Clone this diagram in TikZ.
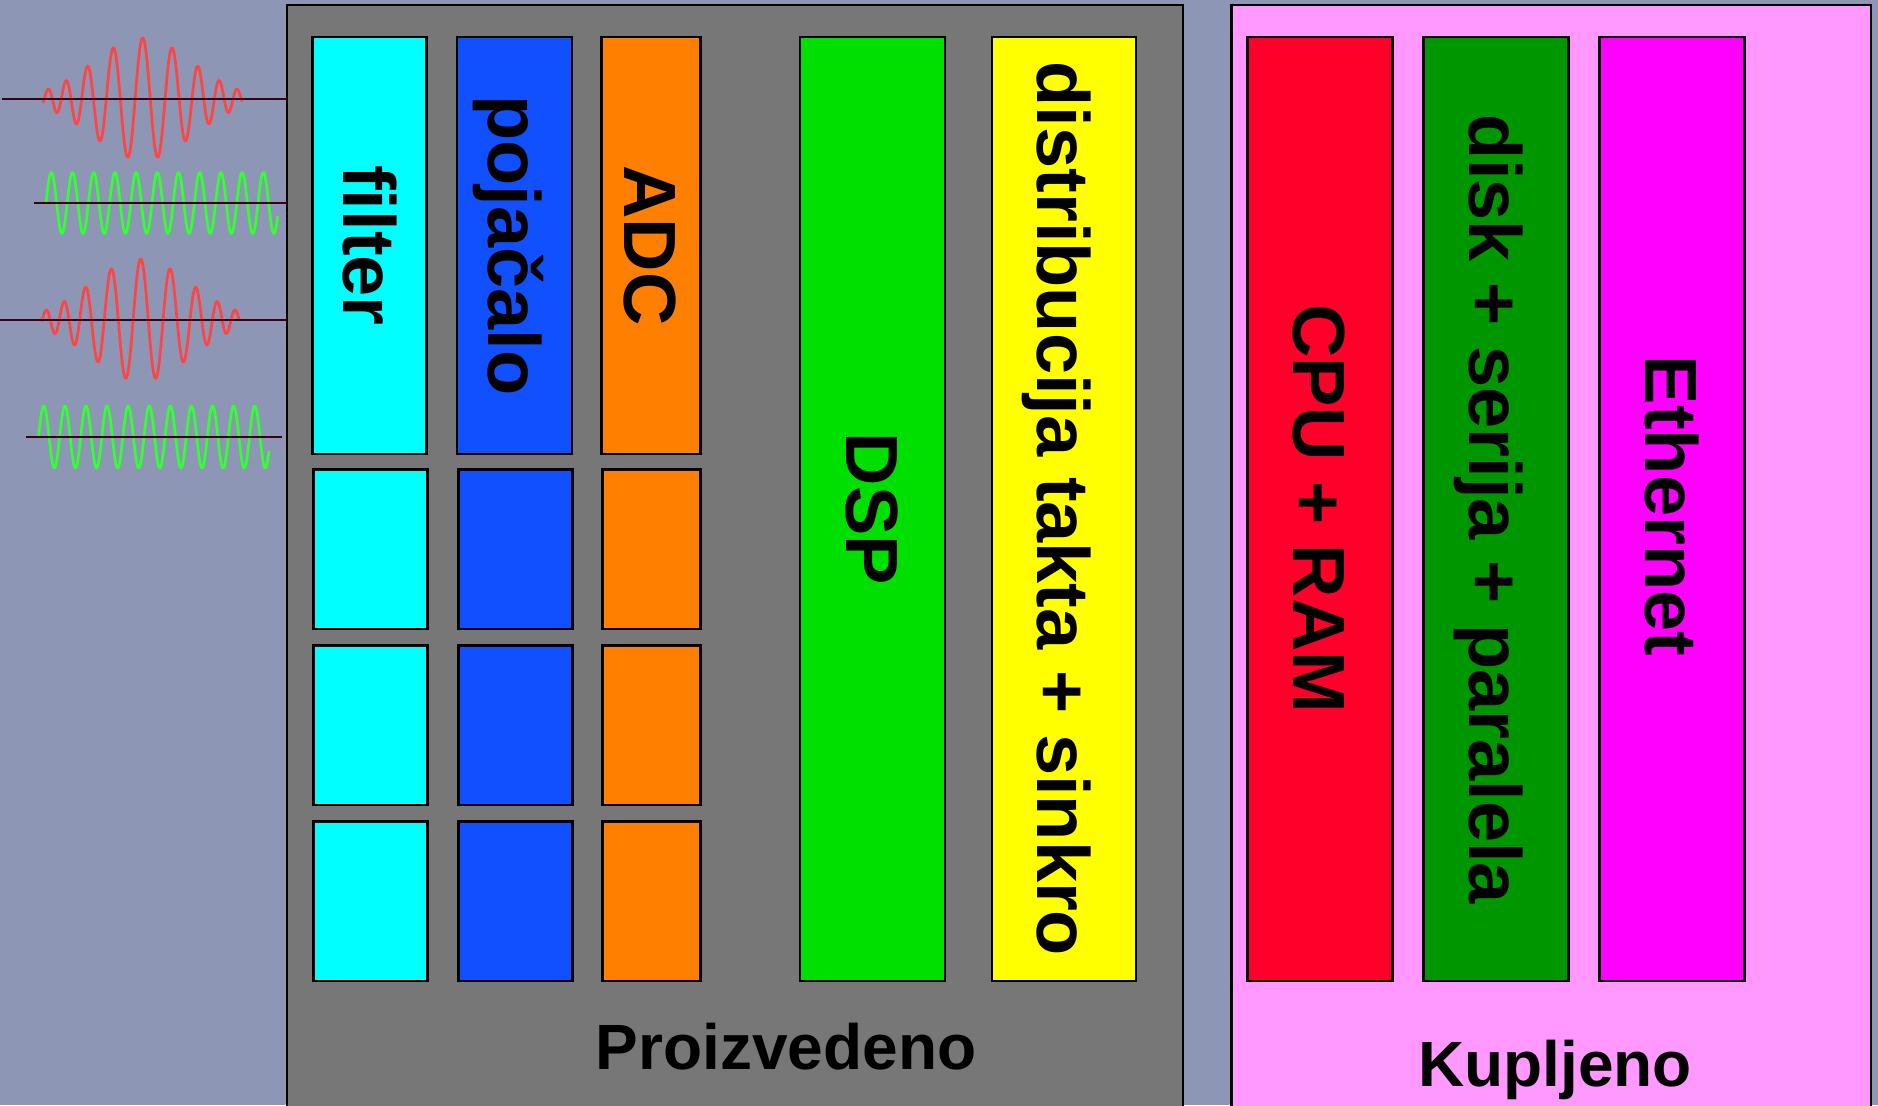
\documentclass[tikz,border=0pt]{standalone}
\usepackage{fontspec}
\setmainfont{Liberation Sans}
\definecolor{bg}{RGB}{141,150,180}
\definecolor{grayb}{RGB}{119,119,119}
\definecolor{pinkb}{RGB}{255,153,255}
\definecolor{cyanb}{RGB}{0,255,255}
\definecolor{blueb}{RGB}{16,80,255}
\definecolor{orangeb}{RGB}{255,128,0}
\definecolor{greenb}{RGB}{0,224,0}
\definecolor{yellowb}{RGB}{255,255,0}
\definecolor{redb}{RGB}{255,0,42}
\definecolor{dgreenb}{RGB}{0,150,0}
\definecolor{magb}{RGB}{255,0,255}
\definecolor{wavered}{RGB}{255,68,68}
\definecolor{wavegreen}{RGB}{51,255,51}
\definecolor{axisline}{RGB}{60,0,16}
\begin{document}
\begin{tikzpicture}[x=1pt,y=-1pt,
  declare function={redw(\v)=exp(-2.04*\v*\v)*cos(1186*\v+378*\v*\v*\v);},
  frame/.style={draw=black,line width=2.3pt},
  box/.style={draw=black,line width=2.3pt,inner sep=0pt,outer sep=0pt,anchor=north west},
  lbl/.style={rotate=-90,inner sep=0pt,text height=53pt,text depth=0pt,
    font=\fontsize{74}{80}\selectfont\bfseries},
  title/.style={anchor=base,inner sep=0pt,font=\fontsize{64}{70}\selectfont\bfseries},
  rw/.style={draw=wavered,line width=2.7pt,line join=round},
  gw/.style={draw=wavegreen,line width=2.7pt,line join=round},
  ax/.style={draw=axisline,line width=2.5pt}]
\useasboundingbox (0,0) rectangle (1878,1105);
\clip (0,0) rectangle (1878,1105);
\fill[bg] (0,0) rectangle (1878,1105);
% outer panels
\draw[frame,fill=grayb] (287,5) rectangle (1183,1120);
\draw[frame,fill=pinkb] (1231.5,5) rectangle (1871,1120);
% waveforms
\draw[rw] plot[domain=43:242,samples=400] (\x,{99-61*redw((\x-142.7)/100)});
\draw[gw] plot[domain=46:277.7,samples=400] (\x,{203-30.5*sin((\x-46)*16.981)});
\draw[rw] plot[domain=41.7:239,samples=400] (\x,{320-61*redw((\x-140.7)/100)});
\draw[gw] plot[domain=38.5:269,samples=400] (\x,{437-31*sin((\x-38.5)*17.062)});
\coordinate (l1a) at (2,99);   \coordinate (l1b) at (287,99);
\coordinate (l2a) at (34,203); \coordinate (l2b) at (287,203);
\coordinate (l3a) at (0,320);  \coordinate (l3b) at (287,320);
\coordinate (l4a) at (26,437); \coordinate (l4b) at (282,437);
\draw[ax] (l1a) -- (l1b);
\draw[ax] (l2a) -- (l2b);
\draw[ax] (l3a) -- (l3b);
\draw[ax] (l4a) -- (l4b);
% tall columns
\node[box,fill=cyanb,minimum width=114pt,minimum height=417pt] (filt) at (312.5,37) {};
\node[box,fill=blueb,minimum width=115pt,minimum height=417pt] (poj) at (457,37) {};
\node[box,fill=orangeb,minimum width=99pt,minimum height=417pt] (adc) at (601.5,37) {};
% small boxes
\foreach \r/\yy in {1/469.5,2/645.5,3/821.5}{
  \node[box,fill=cyanb,minimum width=114pt,minimum height=159.5pt] (fs\r) at (313.5,\yy) {};
  \node[box,fill=blueb,minimum width=114pt,minimum height=159.5pt] (ps\r) at (458.5,\yy) {};
  \node[box,fill=orangeb,minimum width=98pt,minimum height=159.5pt] (as\r) at (602.5,\yy) {};
}
\node[box,fill=greenb,minimum width=145pt,minimum height=944pt] (dsp) at (800,37) {};
\node[box,fill=yellowb,minimum width=144pt,minimum height=944pt] (clk) at (992,37) {};
\node[box,fill=redb,minimum width=145pt,minimum height=944pt] (cpu) at (1247.5,37) {};
\node[box,fill=dgreenb,minimum width=145pt,minimum height=944pt] (disk) at (1423.5,37) {};
\node[box,fill=magb,minimum width=145pt,minimum height=944pt] (eth) at (1599.5,37) {};
% labels
\node[lbl] (tfilt) at (filt.center) {filter};
\node[lbl] (tpoj) at (poj.center) {pojačalo};
\node[lbl] (tadc) at (adc.center) {ADC};
\node[lbl] (tdsp) at (dsp.center) {DSP};
\node[lbl] (tclk) at (clk.center) {distribucija takta + sinkro};
\node[lbl] (tcpu) at (cpu.center) {CPU + RAM};
\node[lbl] (tdisk) at (disk.center) {disk + serija + paralela};
\node[lbl] (teth) at ([yshift=3pt]eth.center) {Ethernet};
\node[title] (proiz) at (786,1069) {Proizvedeno};
\node[title] (kup) at (1555,1086) {Kupljeno};
\end{tikzpicture}
\end{document}
